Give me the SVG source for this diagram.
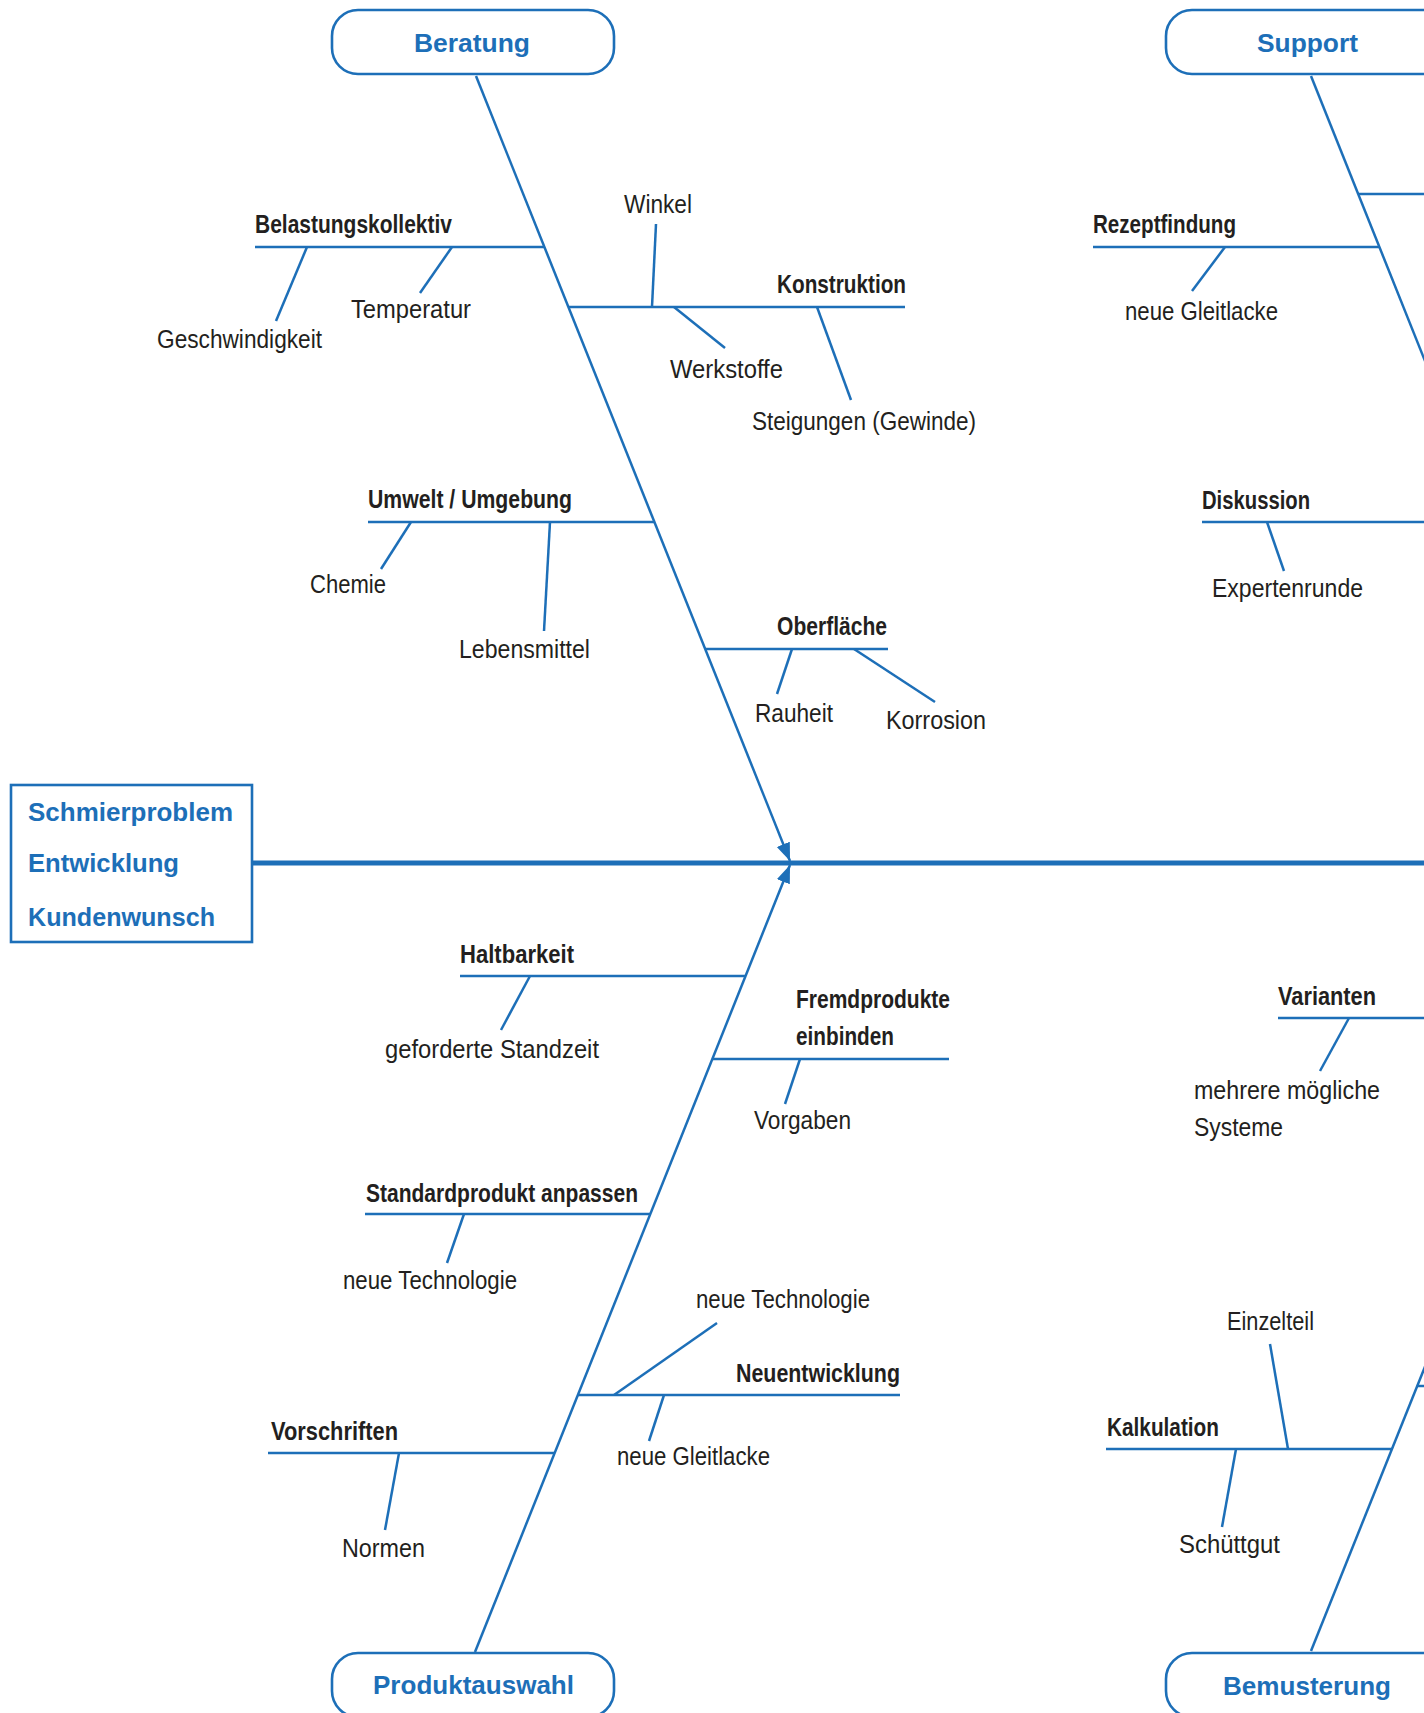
<svg xmlns="http://www.w3.org/2000/svg" width="1424" height="1713" viewBox="0 0 1424 1713">
<style>
.ln{stroke:#1d6fb8;stroke-width:2.5;fill:none}
.sp{stroke:#1d6fb8;stroke-width:5;fill:none}
.box{stroke:#1d6fb8;stroke-width:2.6;fill:#fff}
.t{font-family:"Liberation Sans",Arial,sans-serif;font-size:25px;fill:#231f20}
.b{font-family:"Liberation Sans",Arial,sans-serif;font-size:25px;font-weight:bold;fill:#231f20}
.bl{font-family:"Liberation Sans",Arial,sans-serif;font-size:26px;font-weight:bold;fill:#1d6fb8}
</style>
<defs>
<marker id="arr" markerUnits="userSpaceOnUse" markerWidth="20" markerHeight="16" refX="18" refY="7" orient="auto">
<path d="M0,0 L18,7 L0,14 Z" fill="#1d6fb8"/>
</marker>
</defs>
<rect width="1424" height="1713" fill="#fff"/>

<g id="connectors">
<line class="sp" x1="253" y1="863" x2="1424" y2="863"/>
<line class="ln" x1="476" y1="76" x2="790" y2="861" marker-end="url(#arr)"/>
<line class="ln" x1="475" y1="1652" x2="790" y2="865" marker-end="url(#arr)"/>
<line class="ln" x1="1311" y1="76" x2="1625" y2="861"/>
<line class="ln" x1="1311" y1="1651" x2="1626" y2="865"/>
</g>

<g id="effect">
<rect class="box" x="11" y="785" width="241" height="157"/>
<text class="bl" x="28" y="821" textLength="205" lengthAdjust="spacingAndGlyphs">Schmierproblem</text>
<text class="bl" x="28" y="872" textLength="151" lengthAdjust="spacingAndGlyphs">Entwicklung</text>
<text class="bl" x="28" y="926" textLength="187" lengthAdjust="spacingAndGlyphs">Kundenwunsch</text>
</g>

<g id="beratung">
<rect class="box" x="332" y="10" width="282" height="64" rx="26"/>
<text class="bl" x="414" y="52" textLength="116" lengthAdjust="spacingAndGlyphs">Beratung</text>
</g>
<g id="support">
<rect class="box" x="1166" y="10" width="282" height="64" rx="26"/>
<text class="bl" x="1257" y="52" textLength="101" lengthAdjust="spacingAndGlyphs">Support</text>
</g>
<g id="produktauswahl">
<rect class="box" x="332" y="1653" width="282" height="64" rx="26"/>
<text class="bl" x="373" y="1694" textLength="201" lengthAdjust="spacingAndGlyphs">Produktauswahl</text>
</g>
<g id="bemusterung">
<rect class="box" x="1166" y="1653" width="282" height="64" rx="26"/>
<text class="bl" x="1223" y="1695" textLength="168" lengthAdjust="spacingAndGlyphs">Bemusterung</text>
</g>

<g id="belastungskollektiv">
<line class="ln" x1="255" y1="247" x2="544" y2="247"/>
<text class="b" x="255" y="233" textLength="197" lengthAdjust="spacingAndGlyphs">Belastungskollektiv</text>
<line class="ln" x1="307" y1="247" x2="276" y2="321"/>
<text class="t" x="157" y="348" textLength="165" lengthAdjust="spacingAndGlyphs">Geschwindigkeit</text>
<line class="ln" x1="452" y1="247" x2="420" y2="293"/>
<text class="t" x="351" y="318" textLength="120" lengthAdjust="spacingAndGlyphs">Temperatur</text>
</g>

<g id="konstruktion">
<line class="ln" x1="568" y1="307" x2="905" y2="307"/>
<text class="b" x="777" y="293" textLength="129" lengthAdjust="spacingAndGlyphs">Konstruktion</text>
<line class="ln" x1="652" y1="307" x2="656" y2="224"/>
<text class="t" x="624" y="213" textLength="68" lengthAdjust="spacingAndGlyphs">Winkel</text>
<line class="ln" x1="674" y1="307" x2="725" y2="348"/>
<text class="t" x="670" y="378" textLength="113" lengthAdjust="spacingAndGlyphs">Werkstoffe</text>
<line class="ln" x1="817" y1="307" x2="851" y2="400"/>
<text class="t" x="752" y="430" textLength="224" lengthAdjust="spacingAndGlyphs">Steigungen (Gewinde)</text>
</g>

<g id="umwelt">
<line class="ln" x1="368" y1="522" x2="654" y2="522"/>
<text class="b" x="368" y="508" textLength="204" lengthAdjust="spacingAndGlyphs">Umwelt / Umgebung</text>
<line class="ln" x1="411" y1="522" x2="381" y2="569"/>
<text class="t" x="310" y="593" textLength="76" lengthAdjust="spacingAndGlyphs">Chemie</text>
<line class="ln" x1="550" y1="522" x2="544" y2="631"/>
<text class="t" x="459" y="658" textLength="131" lengthAdjust="spacingAndGlyphs">Lebensmittel</text>
</g>

<g id="oberflaeche">
<line class="ln" x1="705" y1="649" x2="888" y2="649"/>
<text class="b" x="777" y="635" textLength="110" lengthAdjust="spacingAndGlyphs">Oberfläche</text>
<line class="ln" x1="792" y1="649" x2="777" y2="694"/>
<text class="t" x="755" y="722" textLength="78" lengthAdjust="spacingAndGlyphs">Rauheit</text>
<line class="ln" x1="854" y1="649" x2="935" y2="702"/>
<text class="t" x="886" y="729" textLength="100" lengthAdjust="spacingAndGlyphs">Korrosion</text>
</g>

<g id="support-branch">
<line class="ln" x1="1358" y1="194" x2="1424" y2="194"/>
</g>

<g id="rezeptfindung">
<line class="ln" x1="1093" y1="247" x2="1379" y2="247"/>
<text class="b" x="1093" y="233" textLength="143" lengthAdjust="spacingAndGlyphs">Rezeptfindung</text>
<line class="ln" x1="1225" y1="247" x2="1192" y2="291"/>
<text class="t" x="1125" y="320" textLength="153" lengthAdjust="spacingAndGlyphs">neue Gleitlacke</text>
</g>

<g id="diskussion">
<line class="ln" x1="1202" y1="522" x2="1424" y2="522"/>
<text class="b" x="1202" y="509" textLength="108" lengthAdjust="spacingAndGlyphs">Diskussion</text>
<line class="ln" x1="1267" y1="522" x2="1284" y2="571"/>
<text class="t" x="1212" y="597" textLength="151" lengthAdjust="spacingAndGlyphs">Expertenrunde</text>
</g>

<g id="haltbarkeit">
<line class="ln" x1="460" y1="976" x2="746" y2="976"/>
<text class="b" x="460" y="963" textLength="114" lengthAdjust="spacingAndGlyphs">Haltbarkeit</text>
<line class="ln" x1="530" y1="976" x2="501" y2="1030"/>
<text class="t" x="385" y="1058" textLength="214" lengthAdjust="spacingAndGlyphs">geforderte Standzeit</text>
</g>

<g id="fremdprodukte">
<line class="ln" x1="713" y1="1059" x2="949" y2="1059"/>
<text class="b" x="796" y="1008" textLength="154" lengthAdjust="spacingAndGlyphs">Fremdprodukte</text>
<text class="b" x="796" y="1045" textLength="98" lengthAdjust="spacingAndGlyphs">einbinden</text>
<line class="ln" x1="800" y1="1059" x2="785" y2="1104"/>
<text class="t" x="754" y="1129" textLength="97" lengthAdjust="spacingAndGlyphs">Vorgaben</text>
</g>

<g id="varianten">
<line class="ln" x1="1278" y1="1018" x2="1424" y2="1018"/>
<text class="b" x="1278" y="1005" textLength="98" lengthAdjust="spacingAndGlyphs">Varianten</text>
<line class="ln" x1="1349" y1="1018" x2="1320" y2="1071"/>
<text class="t" x="1194" y="1099" textLength="186" lengthAdjust="spacingAndGlyphs">mehrere mögliche</text>
<text class="t" x="1194" y="1136" textLength="89" lengthAdjust="spacingAndGlyphs">Systeme</text>
</g>

<g id="standardprodukt">
<line class="ln" x1="365" y1="1214" x2="650" y2="1214"/>
<text class="b" x="366" y="1202" textLength="272" lengthAdjust="spacingAndGlyphs">Standardprodukt anpassen</text>
<line class="ln" x1="464" y1="1214" x2="447" y2="1263"/>
<text class="t" x="343" y="1289" textLength="174" lengthAdjust="spacingAndGlyphs">neue Technologie</text>
</g>

<g id="neuentwicklung">
<line class="ln" x1="578" y1="1395" x2="900" y2="1395"/>
<text class="b" x="736" y="1382" textLength="164" lengthAdjust="spacingAndGlyphs">Neuentwicklung</text>
<line class="ln" x1="614" y1="1395" x2="717" y2="1323"/>
<text class="t" x="696" y="1308" textLength="174" lengthAdjust="spacingAndGlyphs">neue Technologie</text>
<line class="ln" x1="664" y1="1395" x2="649" y2="1441"/>
<text class="t" x="617" y="1465" textLength="153" lengthAdjust="spacingAndGlyphs">neue Gleitlacke</text>
</g>

<g id="vorschriften">
<line class="ln" x1="268" y1="1453" x2="555" y2="1453"/>
<text class="b" x="271" y="1440" textLength="127" lengthAdjust="spacingAndGlyphs">Vorschriften</text>
<line class="ln" x1="399" y1="1453" x2="385" y2="1530"/>
<text class="t" x="342" y="1557" textLength="83" lengthAdjust="spacingAndGlyphs">Normen</text>
</g>

<g id="kalkulation">
<line class="ln" x1="1106" y1="1449" x2="1392" y2="1449"/>
<text class="b" x="1107" y="1436" textLength="112" lengthAdjust="spacingAndGlyphs">Kalkulation</text>
<line class="ln" x1="1288" y1="1449" x2="1270" y2="1344"/>
<text class="t" x="1227" y="1330" textLength="87" lengthAdjust="spacingAndGlyphs">Einzelteil</text>
<line class="ln" x1="1236" y1="1449" x2="1222" y2="1527"/>
<text class="t" x="1179" y="1553" textLength="101" lengthAdjust="spacingAndGlyphs">Schüttgut</text>
</g>

<g id="bemusterung-branch">
<line class="ln" x1="1417" y1="1386" x2="1424" y2="1386"/>
</g>
</svg>
